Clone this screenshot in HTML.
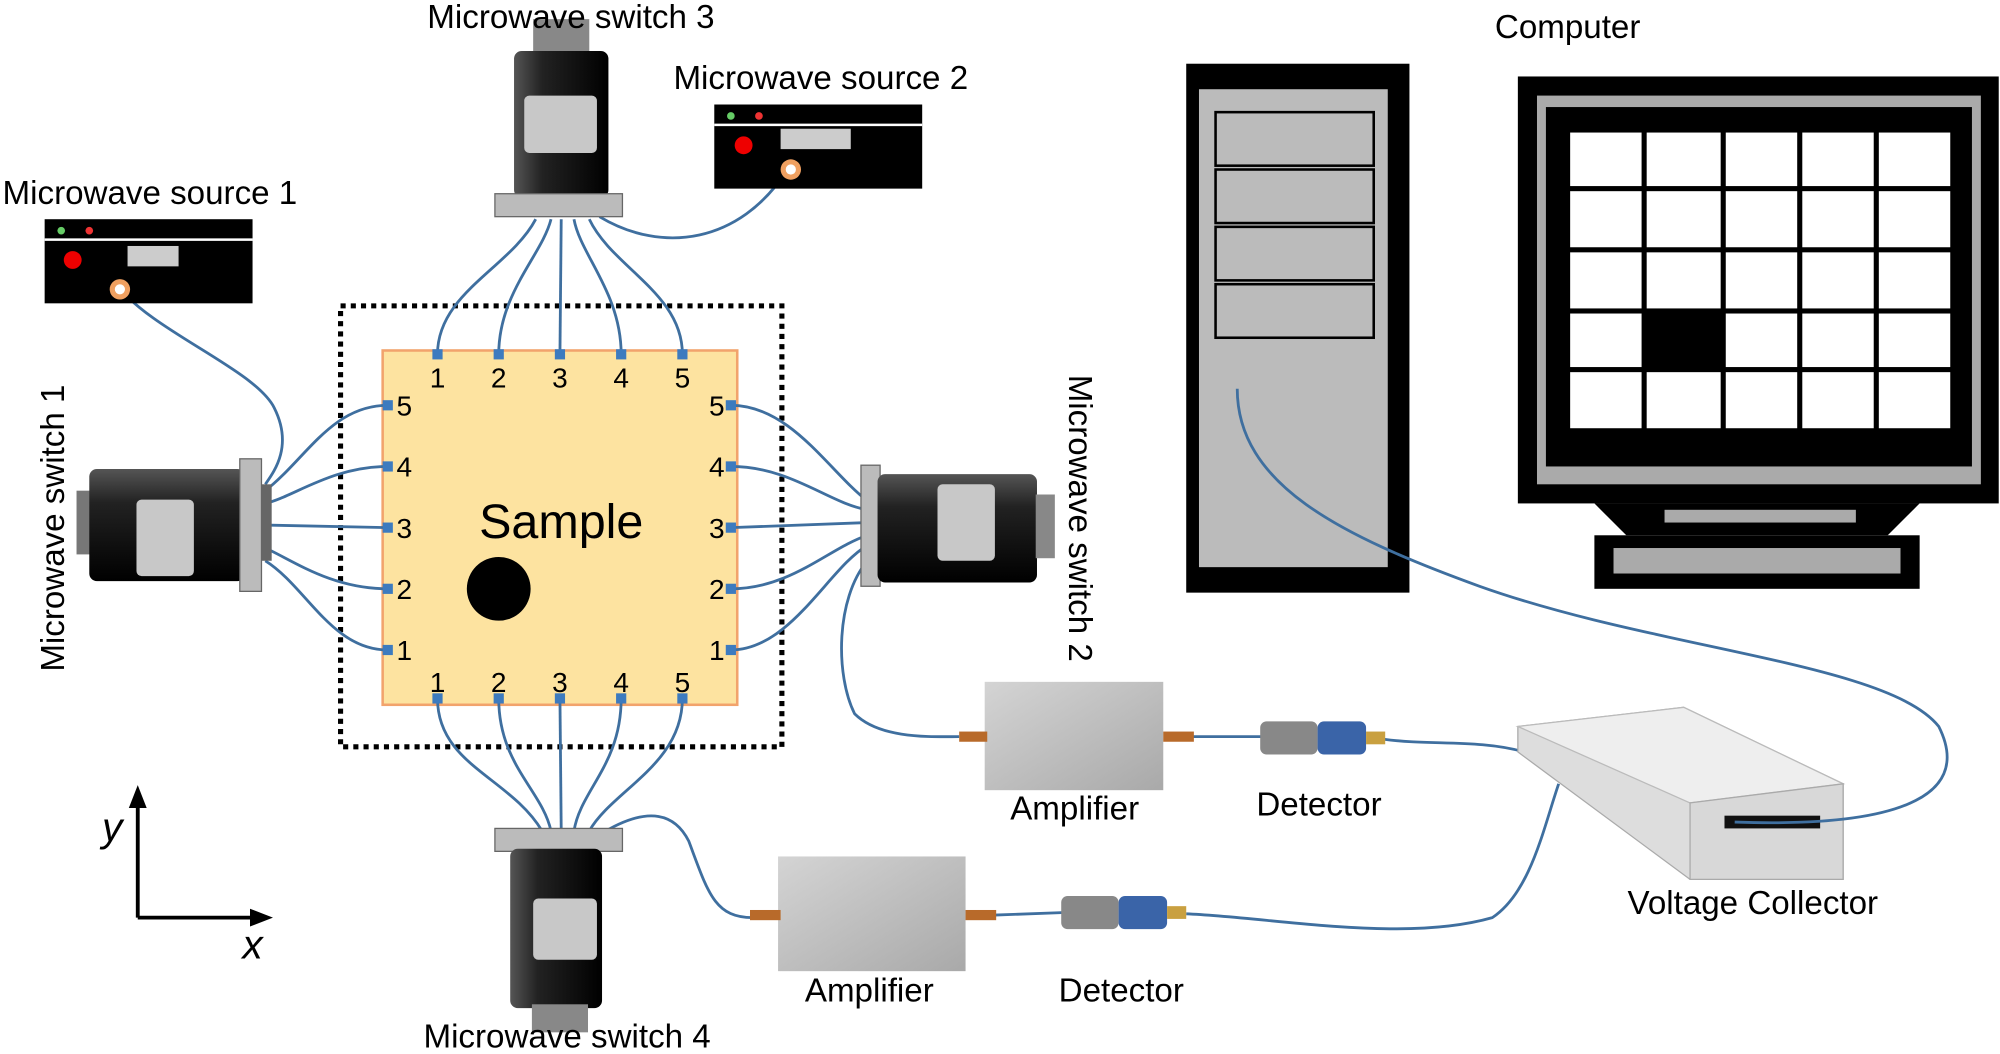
<!DOCTYPE html>
<html><head><meta charset="utf-8"><style>
html,body{margin:0;padding:0;background:#fff;}
svg{display:block;}
text{font-family:"Liberation Sans",sans-serif;fill:#000;}
</style></head><body>
<svg width="2000" height="1054" viewBox="0 0 1568 827" preserveAspectRatio="none" xmlns="http://www.w3.org/2000/svg">
<defs>
<linearGradient id="cylH" x1="0" y1="0" x2="0" y2="1"><stop offset="0" stop-color="#555"/><stop offset="0.3" stop-color="#222"/><stop offset="1" stop-color="#000"/></linearGradient>
<linearGradient id="cylV" x1="0" y1="0" x2="1" y2="0"><stop offset="0" stop-color="#555"/><stop offset="0.3" stop-color="#222"/><stop offset="1" stop-color="#000"/></linearGradient>
<linearGradient id="amp" x1="0" y1="0" x2="1" y2="1"><stop offset="0" stop-color="#d4d4d4"/><stop offset="1" stop-color="#a9a9a9"/></linearGradient>
</defs>

<rect x="267" y="240" width="346" height="346" fill="none" stroke="#000" stroke-width="4" stroke-dasharray="4,4"/>
<rect x="300" y="275" width="278" height="278" fill="#fde3a0" stroke="#f2a36c" stroke-width="2"/>
<text x="440" y="422" font-size="38" text-anchor="middle">Sample</text>
<circle cx="391" cy="462" r="25" fill="#000"/>

<g fill="none" stroke="#3f6f9f" stroke-width="2.2">
<path d="M343 278 C343 230 400 210 420 172"/>
<path d="M391 278 C391 230 425 200 432 172"/>
<path d="M439 278 L440 172"/>
<path d="M487 278 C487 230 455 200 450 172"/>
<path d="M535 278 C535 230 480 210 462 172"/>
<path d="M470 170 C520 200 580 190 616 135"/>
<path d="M304 318 C260 318 240 360 208 385"/>
<path d="M304 366 C260 366 230 390 208 395"/>
<path d="M304 414 L208 412"/>
<path d="M304 462 C260 462 230 440 208 430"/>
<path d="M304 510 C260 510 240 460 208 440"/>
<path d="M93 225 C120 260 200 290 215 320 C230 350 215 370 208 380"/>
<path d="M573 318 C620 318 650 370 680 393"/>
<path d="M573 366 C620 366 650 395 680 400"/>
<path d="M573 414 L680 410"/>
<path d="M573 462 C620 462 650 430 680 420"/>
<path d="M573 510 C620 510 650 445 680 428"/>
<path d="M680 440 C655 470 655 530 670 560 C690 580 730 578 752 578"/>
<path d="M343 548 C343 600 400 610 425 652"/>
<path d="M391 548 C391 600 425 620 432 652"/>
<path d="M439 548 L440 652"/>
<path d="M487 548 C487 600 455 620 450 652"/>
<path d="M535 548 C535 600 480 620 462 652"/>
<path d="M470 655 C510 630 530 640 540 660 C555 700 560 720 590 720"/>
<path d="M935 578 L990 578"/>
<path d="M1085 580 C1120 585 1160 580 1195 590"/>
<path d="M780 718 L835 716"/>
<path d="M930 717 C1000 720 1100 740 1170 720 C1200 700 1210 650 1222 615"/>
</g>

<g fill="#3d7bbf">
<rect x="339" y="274" width="8" height="8"/><rect x="387" y="274" width="8" height="8"/><rect x="435" y="274" width="8" height="8"/><rect x="483" y="274" width="8" height="8"/><rect x="531" y="274" width="8" height="8"/>
<rect x="339" y="544" width="8" height="8"/><rect x="387" y="544" width="8" height="8"/><rect x="435" y="544" width="8" height="8"/><rect x="483" y="544" width="8" height="8"/><rect x="531" y="544" width="8" height="8"/>
<rect x="300" y="314" width="8" height="8"/><rect x="300" y="362" width="8" height="8"/><rect x="300" y="410" width="8" height="8"/><rect x="300" y="458" width="8" height="8"/><rect x="300" y="506" width="8" height="8"/>
<rect x="569" y="314" width="8" height="8"/><rect x="569" y="362" width="8" height="8"/><rect x="569" y="410" width="8" height="8"/><rect x="569" y="458" width="8" height="8"/><rect x="569" y="506" width="8" height="8"/>
</g>
<g font-size="22" text-anchor="middle">
<text x="343" y="304">1</text><text x="391" y="304">2</text><text x="439" y="304">3</text><text x="487" y="304">4</text><text x="535" y="304">5</text>
<text x="343" y="543">1</text><text x="391" y="543">2</text><text x="439" y="543">3</text><text x="487" y="543">4</text><text x="535" y="543">5</text>
<text x="317" y="326">5</text><text x="317" y="374">4</text><text x="317" y="422">3</text><text x="317" y="470">2</text><text x="317" y="518">1</text>
<text x="562" y="326">5</text><text x="562" y="374">4</text><text x="562" y="422">3</text><text x="562" y="470">2</text><text x="562" y="518">1</text>
</g>

<rect x="60" y="385" width="12" height="50" fill="#777"/>
<rect x="70" y="368" width="122" height="88" rx="6" fill="url(#cylH)"/>
<rect x="107" y="392" width="45" height="60" rx="4" fill="#c8c8c8"/>
<rect x="188" y="360" width="17" height="104" fill="#bbb" stroke="#666"/>
<rect x="205" y="380" width="8" height="60" fill="#666"/>
<rect x="675" y="365" width="15" height="95" fill="#bbb" stroke="#666"/>
<rect x="688" y="372" width="125" height="85" rx="6" fill="url(#cylH)"/>
<rect x="735" y="380" width="45" height="60" rx="4" fill="#c8c8c8"/>
<rect x="812" y="388" width="15" height="50" fill="#888"/>
<rect x="418" y="15" width="44" height="28" fill="#888"/>
<rect x="403" y="40" width="74" height="115" rx="6" fill="url(#cylV)"/>
<rect x="411" y="75" width="57" height="45" rx="4" fill="#c8c8c8"/>
<rect x="388" y="152" width="100" height="18" fill="#bbb" stroke="#666"/>
<rect x="388" y="650" width="100" height="18" fill="#bbb" stroke="#666"/>
<rect x="400" y="666" width="72" height="125" rx="6" fill="url(#cylV)"/>
<rect x="418" y="705" width="50" height="48" rx="4" fill="#c8c8c8"/>
<rect x="417" y="788" width="44" height="22" fill="#888"/>

<g>
<rect x="35" y="172" width="163" height="66" fill="#000"/>
<line x1="35" y1="188" x2="198" y2="188" stroke="#fff" stroke-width="2"/>
<circle cx="48" cy="181" r="3" fill="#6c6"/><circle cx="70" cy="181" r="3" fill="#e33"/>
<circle cx="57" cy="204" r="7" fill="#e00"/>
<rect x="100" y="193" width="40" height="16" fill="#ccc"/>
<circle cx="94" cy="227" r="8" fill="#f0a060"/><circle cx="94" cy="227" r="4" fill="#fff"/>
</g>
<g>
<rect x="560" y="82" width="163" height="66" fill="#000"/>
<line x1="560" y1="98" x2="723" y2="98" stroke="#fff" stroke-width="2"/>
<circle cx="573" cy="91" r="3" fill="#6c6"/><circle cx="595" cy="91" r="3" fill="#e33"/>
<circle cx="583" cy="114" r="7" fill="#e00"/>
<rect x="612" y="101" width="55" height="16" fill="#ccc"/>
<circle cx="620" cy="133" r="8" fill="#f0a060"/><circle cx="620" cy="133" r="4" fill="#fff"/>
</g>

<rect x="930" y="50" width="175" height="415" fill="#000"/>
<rect x="940" y="70" width="148" height="375" fill="#bbb"/>
<g fill="#bbb" stroke="#000" stroke-width="2">
<rect x="953" y="88" width="124" height="42"/><rect x="953" y="133" width="124" height="42"/><rect x="953" y="178" width="124" height="42"/><rect x="953" y="223" width="124" height="42"/>
</g>
<rect x="1190" y="60" width="377" height="335" fill="#000"/>
<rect x="1205" y="75" width="348" height="305" fill="#aaa"/>
<rect x="1212" y="84" width="334" height="282" fill="#000"/>
<g fill="#fff">
<rect x="1231" y="104" width="56" height="42"/><rect x="1291" y="104" width="58" height="42"/><rect x="1353" y="104" width="56" height="42"/><rect x="1413" y="104" width="56" height="42"/><rect x="1473" y="104" width="56" height="42"/>
<rect x="1231" y="150" width="56" height="44"/><rect x="1291" y="150" width="58" height="44"/><rect x="1353" y="150" width="56" height="44"/><rect x="1413" y="150" width="56" height="44"/><rect x="1473" y="150" width="56" height="44"/>
<rect x="1231" y="198" width="56" height="44"/><rect x="1291" y="198" width="58" height="44"/><rect x="1353" y="198" width="56" height="44"/><rect x="1413" y="198" width="56" height="44"/><rect x="1473" y="198" width="56" height="44"/>
<rect x="1231" y="246" width="56" height="42"/><rect x="1353" y="246" width="56" height="42"/><rect x="1413" y="246" width="56" height="42"/><rect x="1473" y="246" width="56" height="42"/>
<rect x="1231" y="292" width="56" height="44"/><rect x="1291" y="292" width="58" height="44"/><rect x="1353" y="292" width="56" height="44"/><rect x="1413" y="292" width="56" height="44"/><rect x="1473" y="292" width="56" height="44"/>
</g>
<polygon points="1250,395 1505,395 1480,420 1275,420" fill="#000"/>
<rect x="1250" y="420" width="255" height="42" fill="#000"/>
<rect x="1265" y="430" width="225" height="20" fill="#aaa"/>
<rect x="1305" y="400" width="150" height="10" fill="#aaa"/>

<rect x="772" y="535" width="140" height="85" fill="url(#amp)"/>
<rect x="752" y="574" width="22" height="8" fill="#b86a2a"/><rect x="912" y="574" width="24" height="8" fill="#b86a2a"/>
<rect x="610" y="672" width="147" height="90" fill="url(#amp)"/>
<rect x="588" y="714" width="24" height="8" fill="#b86a2a"/><rect x="757" y="714" width="24" height="8" fill="#b86a2a"/>
<rect x="988" y="566" width="45" height="26" rx="5" fill="#888"/><rect x="1033" y="566" width="38" height="26" rx="5" fill="#3a64a8"/><rect x="1071" y="574" width="15" height="10" fill="#c9a040"/>
<rect x="832" y="703" width="45" height="26" rx="5" fill="#888"/><rect x="877" y="703" width="38" height="26" rx="5" fill="#3a64a8"/><rect x="915" y="711" width="15" height="10" fill="#c9a040"/>
<polygon points="1190,570 1320,555 1445,615 1445,690 1325,690 1190,590" fill="#ddd" stroke="#aaa"/>
<polygon points="1190,570 1320,555 1445,615 1325,630" fill="#eee" stroke="#bbb"/>
<polygon points="1325,630 1445,615 1445,690 1325,690" fill="#d8d8d8" stroke="#aaa"/>
<rect x="1352" y="640" width="75" height="10" fill="#111"/>

<path d="M970 305 C970 380 1050 420 1160 460 C1300 510 1480 520 1520 570 C1545 620 1500 650 1360 645" fill="none" stroke="#3f6f9f" stroke-width="2.2"/>

<g stroke="#000" stroke-width="3" fill="none"><path d="M108 720 L108 628"/><path d="M108 720 L205 720"/></g>
<polygon points="108,616 101,634 115,634" fill="#000"/>
<polygon points="214,720 196,713 196,727" fill="#000"/>
<text x="80" y="660" font-size="32" font-style="italic">y</text>
<text x="190" y="752" font-size="32" font-style="italic">x</text>

<g font-size="26">
<text x="335" y="22">Microwave switch 3</text>
<text x="528" y="70">Microwave source 2</text>
<text x="2" y="160">Microwave source 1</text>
<text x="1172" y="30">Computer</text>
<text x="792" y="643">Amplifier</text>
<text x="985" y="640">Detector</text>
<text x="631" y="786">Amplifier</text>
<text x="830" y="786">Detector</text>
<text x="1276" y="717">Voltage Collector</text>
<text x="332" y="822">Microwave switch 4</text>
<text transform="translate(50,527) rotate(-90)">Microwave switch 1</text>
<text transform="translate(838,294) rotate(90)">Microwave switch 2</text>
</g>
</svg>
</body></html>
